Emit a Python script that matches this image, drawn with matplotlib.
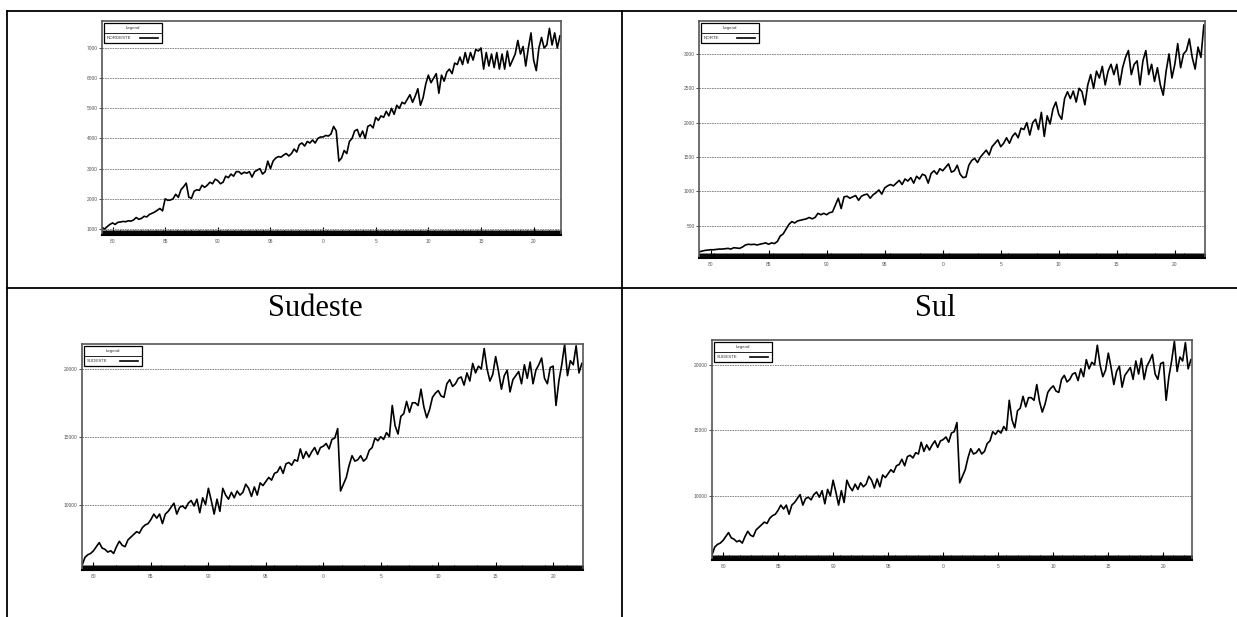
import numpy as np
import matplotlib.pyplot as plt
from matplotlib.lines import Line2D
from matplotlib.patches import Rectangle
from matplotlib.ticker import MultipleLocator, FuncFormatter

plt.rcParams['font.family'] = ['Liberation Sans', 'DejaVu Sans']

start_year = 1979
# quarterly values, 1979Q1 .. 2022Q3
nordeste = [
    1050, 1000, 1080, 1150,  # 1979
    1200, 1150, 1220, 1230,  # 1980
    1250, 1240, 1270, 1260,  # 1981
    1300, 1380, 1320, 1350,  # 1982
    1420, 1400, 1480, 1520,  # 1983
    1560, 1620, 1680, 1600,  # 1984
    2000, 1950, 1960, 2000,  # 1985
    2150, 2050, 2300, 2400,  # 1986
    2520, 2050, 2020, 2250,  # 1987
    2300, 2280, 2450, 2380,  # 1988
    2450, 2550, 2500, 2650,  # 1989
    2600, 2500, 2550, 2750,  # 1990
    2700, 2820, 2750, 2900,  # 1991
    2900, 2820, 2880, 2850,  # 1992
    2900, 2720, 2900, 2950,  # 1993
    3000, 2820, 2900, 3250,  # 1994
    3000, 3250, 3350, 3400,  # 1995
    3380, 3450, 3500, 3420,  # 1996
    3500, 3650, 3550, 3800,  # 1997
    3850, 3750, 3900, 3850,  # 1998
    3950, 3850, 4000, 4050,  # 1999
    4050, 4100, 4080, 4150,  # 2000
    4400, 4250, 3250, 3350,  # 2001
    3600, 3500, 3900, 4000,  # 2002
    4250, 4300, 4050, 4250,  # 2003
    4000, 4400, 4450, 4350,  # 2004
    4700, 4600, 4750, 4700,  # 2005
    4900, 4750, 5000, 4800,  # 2006
    5100, 5000, 5200, 5150,  # 2007
    5300, 5450, 5200, 5400,  # 2008
    5650, 5100, 5350, 5800,  # 2009
    6100, 5850, 6000, 6150,  # 2010
    5500, 6100, 5900, 6200,  # 2011
    6300, 6150, 6500, 6450,  # 2012
    6700, 6450, 6850, 6500,  # 2013
    6850, 6600, 6950, 6900,  # 2014
    7000, 6300, 6850, 6400,  # 2015
    6800, 6350, 6850, 6300,  # 2016
    6800, 6300, 6900, 6400,  # 2017
    6600, 6800, 7250, 6800,  # 2018
    7050, 6400, 7000, 7500,  # 2019
    6600, 6250, 7000, 7350,  # 2020
    7000, 7100, 7650, 7100,  # 2021
    7500, 7000, 7400,        # 2022
]

norte = [
    120, 130, 140, 145,      # 1979
    150, 150, 155, 160,      # 1980
    160, 165, 170, 160,      # 1981
    180, 175, 170, 190,      # 1982
    220, 230, 225, 230,      # 1983
    220, 230, 240, 250,      # 1984
    230, 250, 240, 270,      # 1985
    350, 380, 450, 520,      # 1986
    560, 540, 570, 580,      # 1987
    590, 600, 620, 600,      # 1988
    620, 680, 660, 680,      # 1989
    660, 690, 700, 800,      # 1990
    900, 750, 920, 930,      # 1991
    900, 920, 940, 870,      # 1992
    930, 950, 960, 900,      # 1993
    950, 980, 1020, 960,     # 1994
    1050, 1080, 1100, 1080,  # 1995
    1120, 1160, 1100, 1180,  # 1996
    1150, 1200, 1120, 1220,  # 1997
    1180, 1250, 1230, 1120,  # 1998
    1260, 1300, 1250, 1330,  # 1999
    1300, 1350, 1400, 1280,  # 2000
    1300, 1380, 1250, 1200,  # 2001
    1210, 1380, 1450, 1480,  # 2002
    1420, 1500, 1550, 1600,  # 2003
    1530, 1650, 1700, 1750,  # 2004
    1650, 1700, 1780, 1700,  # 2005
    1800, 1850, 1780, 1920,  # 2006
    1900, 2000, 1820, 2000,  # 2007
    2050, 1900, 2150, 1800,  # 2008
    2100, 1980, 2200, 2300,  # 2009
    2120, 2050, 2350, 2450,  # 2010
    2350, 2460, 2300, 2500,  # 2011
    2450, 2260, 2550, 2700,  # 2012
    2500, 2750, 2650, 2820,  # 2013
    2550, 2750, 2850, 2700,  # 2014
    2850, 2550, 2800, 2950,  # 2015
    3050, 2700, 2850, 2900,  # 2016
    2550, 2900, 3050, 2700,  # 2017
    2850, 2600, 2800, 2550,  # 2018
    2400, 2750, 3000, 2650,  # 2019
    2850, 3150, 2800, 3000,  # 2020
    3050, 3220, 2950, 2780,  # 2021
    3100, 2950, 3420,        # 2022
]

sudeste = [
    5500, 6100, 6300, 6400,      # 1979
    6600, 6900, 7200, 6800,      # 1980
    6700, 6500, 6600, 6400,      # 1981
    6900, 7300, 7000, 6900,      # 1982
    7400, 7600, 7800, 8000,      # 1983
    7900, 8300, 8500, 8600,      # 1984
    8900, 9300, 9000, 9300,      # 1985
    8600, 9300, 9500, 9800,      # 1986
    10100, 9300, 9800, 9900,     # 1987
    9700, 10100, 10300, 9900,    # 1988
    10400, 9400, 10500, 10000,   # 1989
    11200, 10300, 9300, 10400,   # 1990
    9500, 11200, 10700, 10400,   # 1991
    10900, 10500, 11000, 10700,  # 1992
    10900, 11500, 11200, 10600,  # 1993
    11300, 10700, 11600, 11400,  # 1994
    11700, 12000, 11800, 12300,  # 1995
    12400, 12800, 12300, 13000,  # 1996
    13100, 12900, 13300, 13200,  # 1997
    14100, 13400, 13900, 13500,  # 1998
    13900, 14200, 13700, 14200,  # 1999
    14300, 14500, 14100, 14800,  # 2000
    14900, 15600, 11000, 11500,  # 2001
    12000, 12900, 13600, 13200,  # 2002
    13300, 13600, 13200, 13400,  # 2003
    14000, 14200, 14900, 14700,  # 2004
    15000, 14800, 15300, 15000,  # 2005
    17300, 15800, 15200, 16500,  # 2006
    16700, 17600, 16800, 17500,  # 2007
    17500, 17300, 18500, 17200,  # 2008
    16400, 17000, 17900, 18200,  # 2009
    18400, 18000, 17900, 18900,  # 2010
    19200, 18700, 18900, 19300,  # 2011
    19400, 18800, 19700, 19100,  # 2012
    20400, 19700, 20200, 20000,  # 2013
    21500, 20000, 19100, 19600,  # 2014
    20900, 19800, 18500, 19500,  # 2015
    19900, 18300, 19200, 19500,  # 2016
    19800, 18900, 20300, 19300,  # 2017
    20500, 18900, 19900, 20300,  # 2018
    20800, 19300, 18900, 20100,  # 2019
    20200, 17300, 19100, 20300,  # 2020
    21800, 19500, 20600, 20300,  # 2021
    21700, 19700, 20400,         # 2022
]
# the "Sul" panel in the source repeats the SUDESTE series
sul = list(sudeste)

W, H = 1237, 617
fig = plt.figure(figsize=(W / 100, H / 100), dpi=100)


def add_ax(x0, y0, x1, y1):
    return fig.add_axes([x0 / W, 1 - y1 / H, (x1 - x0) / W, (y1 - y0) / H])


def table_line(x0, y0, x1, y1):
    fig.add_artist(Line2D([x0 / W, x1 / W], [1 - y0 / H, 1 - y1 / H], color='black', lw=1.3))


def draw_legend(ax, name, box_w=58, box_h=20):
    bb = ax.get_position()
    aw, ah = bb.width * W, bb.height * H
    x0, x1 = 2 / aw, (2 + box_w) / aw
    y1, y0 = 1 - 2 / ah, 1 - (2 + box_h) / ah
    ym = (y0 + y1) / 2
    ax.add_patch(Rectangle((x0, y0), x1 - x0, y1 - y0, transform=ax.transAxes,
                           fc='white', ec='black', lw=0.9, zorder=5))
    ax.add_line(Line2D([x0, x1], [ym, ym], transform=ax.transAxes, color='black', lw=0.6, zorder=6))
    ax.text((x0 + x1) / 2, (ym + y1) / 2, 'Legend', transform=ax.transAxes, ha='center', va='center',
            fontsize=3.2, color='#333333', zorder=7)
    ax.text(x0 + 3 / aw, (y0 + ym) / 2, name, transform=ax.transAxes, ha='left', va='center',
            fontsize=3.2, color='#333333', zorder=7)
    ax.add_line(Line2D([x0 + 0.62 * (x1 - x0), x0 + 0.93 * (x1 - x0)], [(y0 + ym) / 2] * 2,
                       transform=ax.transAxes, color='black', lw=1.2, zorder=7))


def style_axes(ax, ylim, ystep):
    ax.set_xlim(1979.0, 2022.6)
    ax.set_ylim(*ylim)
    ax.yaxis.set_major_locator(MultipleLocator(ystep))
    ax.xaxis.set_major_locator(MultipleLocator(5))
    ax.xaxis.set_minor_locator(MultipleLocator(1 / 12))
    ax.xaxis.set_major_formatter(FuncFormatter(lambda v, p: str(int(round(v)) % 100)))
    ax.grid(axis='y', ls=(0, (2, 1)), color='#777777', lw=0.6)
    ax.tick_params(axis='x', which='major', direction='in', length=6, width=0.8,
                   labelsize=3.5, labelcolor='#555555', pad=3)
    ax.tick_params(axis='x', which='minor', direction='in', length=3.5, width=0.7)
    ax.tick_params(axis='y', direction='out', length=2, width=0.5, labelsize=3.5,
                   labelcolor='#555555', pad=1)
    for s in ['left', 'top', 'right']:
        ax.spines[s].set_color('#555555')
        ax.spines[s].set_linewidth(1.2)
    ax.spines['bottom'].set_color('black')
    ax.spines['bottom'].set_linewidth(1.5)


panels = [
    ((102, 21, 561, 235), nordeste, 'NORDESTE', (800, 7895), 1000),
    ((699, 21, 1205, 258), norte, 'NORTE', (30, 3480), 500),
    ((82, 344, 583, 570), sudeste, 'SUDESTE', (5180, 21830), 5000),
    ((712, 340, 1192, 560), sul, 'SUDESTE', (5110, 21900), 5000),
]

for box, values, name, ylim, ystep in panels:
    ax = add_ax(*box)
    t = start_year + np.arange(len(values)) / 4
    ax.plot(t, values, color='black', lw=1.2)
    style_axes(ax, ylim, ystep)
    draw_legend(ax, name)

# table borders
table_line(7, 11, 1237, 11)
table_line(7, 288, 1237, 288)
table_line(7, 11, 7, 617)
table_line(622, 11, 622, 617)

fig.text(315 / W, 1 - 308 / H, 'Sudeste', family='Liberation Serif', fontsize=22, ha='center', va='center')
fig.text(935 / W, 1 - 308 / H, 'Sul', family='Liberation Serif', fontsize=22, ha='center', va='center')

fig.savefig('out.png', dpi=100)
